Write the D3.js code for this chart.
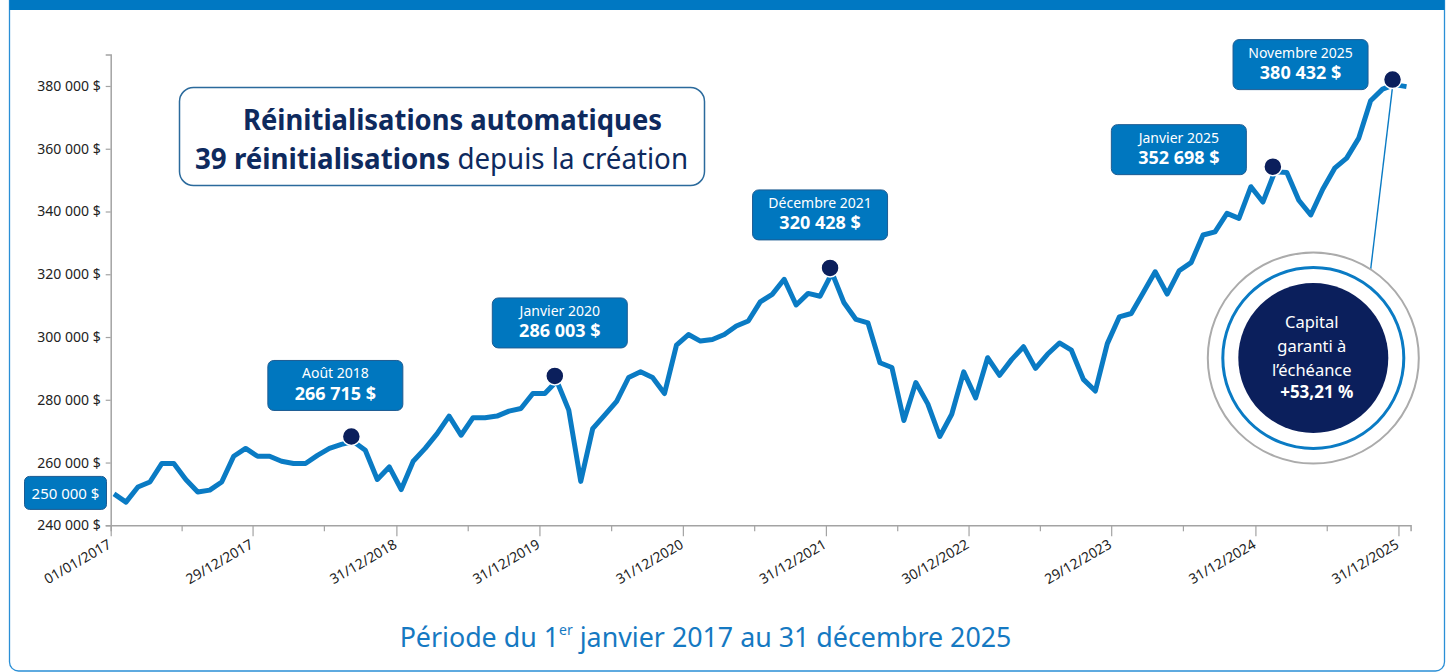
<!DOCTYPE html>
<html><head><meta charset="utf-8">
<script src="https://cdn.jsdelivr.net/npm/d3@7"></script>
<style>
html,body{margin:0;padding:0;background:#fff;}
svg{display:block;}
text{font-family:"Noto Sans","Open Sans",sans-serif;font-stretch:condensed;}
</style></head><body>
<svg id="chart" width="1450" height="672"></svg>
<script>
// ---------- DATA ----------
// Monthly portfolio value, start (01/01/2017) then each month end to Dec 2025
const values = [
 250000,247400,252200,253800,259700,259700,254600,250600,251200,253800,262000,264500,
 262000,262000,260400,259700,259700,262300,264500,265800,266715,263900,254600,258600,
 251400,260400,264500,269200,274800,268700,274300,274300,274800,276400,277200,282000,
 282000,286003,276700,254000,270800,275100,279500,287100,288900,287100,282000,297400,
 300800,298700,299200,300800,303500,305100,311200,313600,318400,310200,313900,313000,
 320428,310900,305600,304500,291800,290300,273400,285500,278700,268300,275400,288900,
 280600,293400,287800,292800,296900,290000,294500,298100,295800,286500,282800,297900,
 306400,307500,314100,320800,313700,321100,323700,332500,333500,339400,337800,347900,
 343000,352698,352400,343600,338900,347100,353800,357000,363300,375300,379000,380432,
 379800
];
const xTickLabels = ["01/01/2017","29/12/2017","31/12/2018","31/12/2019","31/12/2020",
  "31/12/2021","30/12/2022","29/12/2023","31/12/2024","31/12/2025"];
const yTickValues = [240000,260000,280000,300000,320000,340000,360000,380000];
const startValueLabel = "250 000 $";
const calloutIndex = [20, 37, 60, 97, 107];
const calloutTitle = ["Août 2018","Janvier 2020","Décembre 2021","Janvier 2025","Novembre 2025"];
const calloutValue = ["266 715 $","286 003 $","320 428 $","352 698 $","380 432 $"];
const titleLine1 = "Réinitialisations automatiques";
const titleLine2Bold = "39 réinitialisations";
const titleLine2Rest = " depuis la création";
const circleLines = ["Capital","garanti à","l’échéance"];
const circleValue = "+53,21 %";
const periodText = ["Période du 1", "er", " janvier 2017 au 31 décembre 2025"];

// ---------- LAYOUT ----------
const calloutOffsets = [[-18,-56],[3,-58],[-12,-58],[-96,-22],[-94,-20]];
const C = {line:"#0a7bc4", box:"#0077bf", boxStroke:"#1d5b92", navy:"#0b1f5c",
  axis:"#a3a3a3", tickText:"#222", titleText:"#0e2a5e"};

const svg = d3.select("#chart");
const parse = d3.timeParse("%d/%m/%Y");

// frame
svg.append("rect").attr("x",9.5).attr("y",-20).attr("width",1435).attr("height",691)
  .attr("rx",9).attr("fill","none").attr("stroke","#2a8fd6").attr("stroke-width",1.3);
svg.append("rect").attr("x",9.5).attr("y",0).attr("width",1435).attr("height",10)
  .attr("fill","#0078c2");

// scales
const y = d3.scaleLinear().domain([240000, 390000]).range([525.3, 54.6]);
const xIdx = d3.scaleLinear().domain([0, values.length - 1]).range([114, 1406.5]);
const xTime = d3.scaleTime().domain([parse("01/01/2017"), parse("31/01/2026")]).range([110.7, 1410.6]);

// Y axis
const yAxis = d3.axisLeft(y).tickValues(yTickValues).tickSize(5).tickPadding(5)
  .tickFormat(d => d3.format(",")(d).replace(/,/g, " ") + " $");
const gy = svg.append("g").attr("transform","translate(110.7,0)").call(yAxis);
gy.select(".domain").attr("stroke",C.axis).attr("stroke-width",1.5);
gy.selectAll(".tick line").attr("stroke",C.axis).attr("stroke-width",1.2);
gy.selectAll(".tick text").attr("fill",C.tickText).style("font-size","14px");

// X axis
const majorDates = xTickLabels.map(parse);
const minorDates = majorDates.slice(0,-1).map(d => d3.timeMonth.offset(d, 6));
const xAxisMinor = d3.axisBottom(xTime).tickValues(minorDates).tickSize(6).tickFormat("");
const gxm = svg.append("g").attr("transform","translate(0,525.3)").call(xAxisMinor);
gxm.select(".domain").attr("stroke",C.axis).attr("stroke-width",1.5);
gxm.selectAll(".tick line").attr("stroke",C.axis).attr("stroke-width",1.2);
const xAxis = d3.axisBottom(xTime).tickValues(majorDates).tickSize(11)
  .tickFormat((d,i) => xTickLabels[i]);
const gx = svg.append("g").attr("transform","translate(0,525.3)").call(xAxis);
gx.select(".domain").remove();
gx.selectAll(".tick line").attr("stroke",C.axis).attr("stroke-width",1.2);
gx.selectAll(".tick text").attr("fill",C.tickText).style("font-size","14px")
  .attr("text-anchor","end").attr("y",0).attr("dy",0)
  .attr("transform","translate(1,22) rotate(-30)");

// line
const line = d3.line().x((d,i) => xIdx(i)).y(d => y(d));
svg.append("path").datum(values).attr("d", line).attr("fill","none")
  .attr("stroke",C.line).attr("stroke-width",5).attr("stroke-linejoin","round");

// title box
const tb = svg.append("g");
tb.append("rect").attr("x",179.5).attr("y",87.5).attr("width",525).attr("height",98).attr("rx",14)
  .attr("fill","#fff").attr("stroke","#2b6a9c").attr("stroke-width",1.5);
tb.append("text").attr("x",452.5).attr("y",130).attr("text-anchor","middle")
  .attr("textLength",419).attr("lengthAdjust","spacingAndGlyphs")
  .attr("fill",C.titleText).style("font-size","29px").style("font-weight","700").text(titleLine1);
const t2 = tb.append("text").attr("x",441.5).attr("y",169).attr("text-anchor","middle")
  .attr("textLength",493).attr("lengthAdjust","spacingAndGlyphs")
  .attr("fill",C.titleText).style("font-size","29px");
t2.append("tspan").style("font-weight","700").text(titleLine2Bold);
t2.append("tspan").style("font-weight","400").text(titleLine2Rest);

// start value label
const sv = svg.append("g").attr("transform",`translate(65.5,${y(values[0])-1})`);
sv.append("rect").attr("x",-41).attr("y",-16.5).attr("width",82).attr("height",33).attr("rx",5)
  .attr("fill",C.box).attr("stroke",C.boxStroke).attr("stroke-width",1);
sv.append("text").attr("text-anchor","middle").attr("y",6).attr("fill","#fff")
  .style("font-size","15px").text(startValueLabel);

// callouts
calloutIndex.forEach((idx,k) => {
  const px = xIdx(idx), py = y(values[idx]);
  const [dx,dy] = calloutOffsets[k];
  const g = svg.append("g").attr("transform",`translate(${px+dx},${py+dy})`);
  g.append("rect").attr("x",-67.5).attr("y",-25).attr("width",135).attr("height",50).attr("rx",6)
    .attr("fill",C.box).attr("stroke",C.boxStroke).attr("stroke-width",1);
  g.append("text").attr("text-anchor","middle").attr("y",-7).attr("fill","#fff")
    .style("font-size","14px").text(calloutTitle[k]);
  g.append("text").attr("text-anchor","middle").attr("y",14.5).attr("fill","#fff")
    .style("font-size","18px").style("font-weight","700").text(calloutValue[k]);
});

// capital circle
const cx = 1313.3, cy = 358;
const last = calloutIndex[calloutIndex.length-1];
const mx = xIdx(last) - 1, my = y(values[last]) - 6;
const ang = -57.2 * Math.PI/180;
svg.append("line").attr("x1",mx).attr("y1",my)
  .attr("x2",cx + 106*Math.cos(ang)).attr("y2",cy + 106*Math.sin(ang))
  .attr("stroke",C.line).attr("stroke-width",1.4);
svg.append("circle").attr("cx",cx).attr("cy",cy).attr("r",105.5).attr("fill","#fff")
  .attr("stroke","#ababab").attr("stroke-width",2);
svg.append("circle").attr("cx",cx).attr("cy",cy).attr("r",90.5).attr("fill","#fff")
  .attr("stroke",C.line).attr("stroke-width",3);
svg.append("circle").attr("cx",cx).attr("cy",cy).attr("r",75).attr("fill",C.navy);
circleLines.forEach((t,i) => {
  svg.append("text").attr("x",cx-1.5).attr("y",327.5 + i*24.3).attr("text-anchor","middle")
    .attr("fill","#fff").style("font-size","16.5px").text(t);
});
svg.append("text").attr("x",cx+3.5).attr("y",397.5).attr("text-anchor","middle")
  .attr("fill","#fff").style("font-size","17px").style("font-weight","700").text(circleValue);

// markers (drawn on top)
calloutIndex.forEach(idx => {
  svg.append("circle").attr("cx",xIdx(idx)-2).attr("cy",y(values[idx])-5).attr("r",9)
    .attr("fill",C.navy).attr("stroke","#fff").attr("stroke-width",1.5);
});

// period text
const pt = svg.append("text").attr("x",705.5).attr("y",647).attr("text-anchor","middle")
  .attr("fill","#1579c2").style("font-size","26.8px");
pt.append("tspan").text(periodText[0]);
pt.append("tspan").attr("dy",-12).style("font-size","14px").text(periodText[1]);
pt.append("tspan").attr("dy",12).text(periodText[2]);
</script>
</body></html>
